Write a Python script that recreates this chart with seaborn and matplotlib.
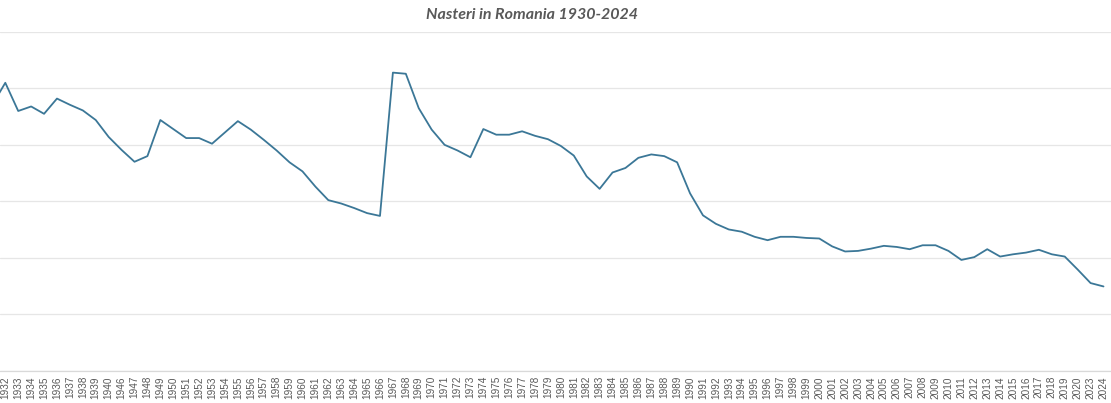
import pandas as pd
import matplotlib
matplotlib.use("Agg")
import matplotlib.pyplot as plt
import seaborn as sns

# ----------------------------
# DATA
# ----------------------------

years = (["1931"] + [str(y) for y in range(1932, 1941)]
         + [str(y) for y in range(1946, 2021)] + ["2023", "2024"])

births = [
    471000,                                                    # 1931 (cut off at left edge)
    510000, 460000, 468000, 455000, 482000, 471000, 461000, 444000, 414000,  # 1932-1940
    391000, 370000, 380000, 444000, 428000, 412000, 412000, 402000, 422000,  # 1946-1954
    442000, 427000, 409000, 390000, 369000, 353000, 326000, 302000, 296000,  # 1955-1963
    288000, 279000, 274000, 528000, 526000, 465000, 427000, 400000, 390000,  # 1964-1972
    378000, 428000, 418000, 418000, 424000, 416000, 410000, 398000, 381000,  # 1973-1981
    344000, 322000, 351000, 359000, 377000, 383000, 380000, 369000, 314000,  # 1982-1990
    275000, 260000, 250000, 246000, 237000, 231000, 237000, 237000, 235000,  # 1991-1999
    234000, 220000, 211000, 212000, 216000, 221000, 219000, 215000, 222000,  # 2000-2008
    222000, 212000, 196000, 201000, 215000, 202000, 206000, 209000, 214000,  # 2009-2017
    206000, 202000, 179000,                                    # 2018-2020
    155000, 149000,                                            # 2023-2024
]

df = pd.DataFrame({"Year": years, "Births": births})
df["pos"] = range(len(df))

# ----------------------------
# PLOT
# ----------------------------

sns.set_style("white")
plt.rcParams["font.family"] = ["Liberation Sans", "DejaVu Sans"]

fig = plt.figure(figsize=(11.11, 4.03), dpi=100)
ax = fig.add_axes([0, 0.0806, 1, 0.84])

sns.lineplot(data=df, x="pos", y="Births", color="#3b7797", linewidth=1.3, ax=ax)

ax.set_yticks(range(0, 600001, 100000))
ax.yaxis.grid(True, color="#e6e6e6", linewidth=0.9)
ax.set_axisbelow(True)
ax.tick_params(axis="y", left=False, labelleft=False)

ax.set_xticks(df["pos"])
ax.set_xticklabels(df["Year"], rotation=90, fontsize=7.2, color="#595959")
ax.tick_params(axis="x", length=0, pad=4)

# limits after the ticks (set_xticks widens the view)
# px scale: 1932 at x=5.3, step 12.92 px
step = 12.92
ax.set_xlim(1 - 5.3 / step, 1 + (1111 - 5.3) / step)
ax.set_ylim(0, 600000)

for side in ["left", "right", "top"]:
    ax.spines[side].set_visible(False)
ax.spines["bottom"].set_color("#d9d9d9")
ax.spines["bottom"].set_linewidth(0.9)

ax.set_xlabel("")
ax.set_ylabel("")

fig.text(532 / 1111, 1 - 15 / 403, "Nasteri in Romania 1930-2024",
         ha="center", va="center", fontsize=11.5, fontstyle="italic",
         fontweight="bold", color="#595959", family=["Lato", "DejaVu Sans"])

fig.savefig("out.png", dpi=100)
